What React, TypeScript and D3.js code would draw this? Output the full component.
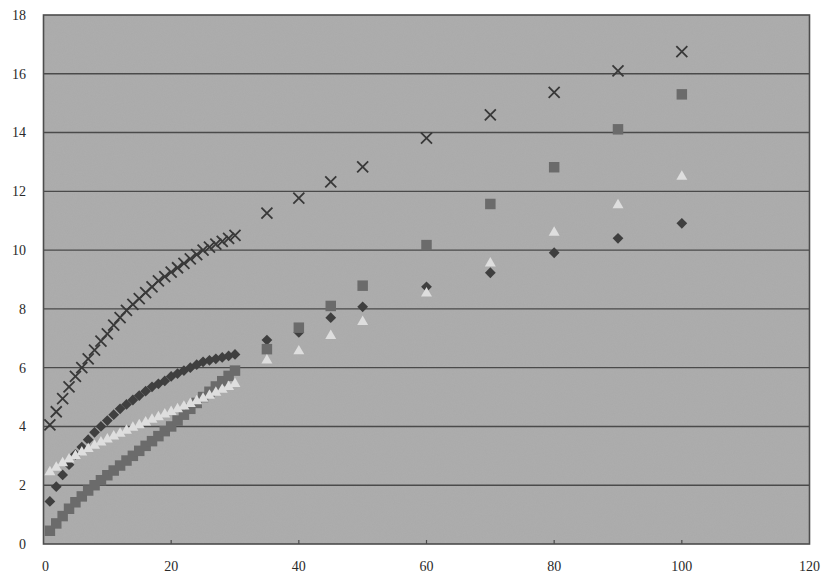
import React from "react";
import * as d3 from "d3";

const xDense = d3.range(1, 31);
const xSparse = [35, 40, 45, 50, 60, 70, 80, 90, 100];

const diamondDense = [1.45, 1.95, 2.35, 2.7, 3.05, 3.3, 3.55, 3.8, 4.0, 4.2, 4.4, 4.6, 4.75, 4.9, 5.05, 5.2, 5.35, 5.45, 5.55, 5.7, 5.8, 5.9, 6.0, 6.1, 6.2, 6.25, 6.3, 6.35, 6.4, 6.45];
const diamondSparse = [6.94, 7.2, 7.7, 8.07, 8.75, 9.23, 9.91, 10.4, 10.91];

const squareDense = [0.45, 0.7, 0.95, 1.2, 1.42, 1.62, 1.82, 2.0, 2.17, 2.34, 2.5, 2.67, 2.84, 3.0, 3.17, 3.34, 3.5, 3.67, 3.84, 4.0, 4.2, 4.4, 4.6, 4.8, 5.0, 5.18, 5.36, 5.54, 5.72, 5.9];
const squareSparse = [6.63, 7.36, 8.1, 8.79, 10.17, 11.57, 12.82, 14.11, 15.3];

const triangleDense = [2.45, 2.6, 2.75, 2.88, 3.0, 3.12, 3.24, 3.35, 3.46, 3.56, 3.66, 3.76, 3.86, 3.96, 4.05, 4.14, 4.23, 4.32, 4.41, 4.5, 4.59, 4.68, 4.77, 4.86, 4.95, 5.05, 5.15, 5.25, 5.35, 5.45];
const triangleSparse = [6.25, 6.56, 7.08, 7.56, 8.53, 9.55, 10.6, 11.53, 12.5];

const crossDense = [4.05, 4.5, 4.95, 5.35, 5.7, 6.0, 6.3, 6.6, 6.9, 7.15, 7.45, 7.7, 7.95, 8.15, 8.35, 8.55, 8.75, 8.95, 9.1, 9.25, 9.4, 9.55, 9.7, 9.85, 10.0, 10.1, 10.2, 10.3, 10.4, 10.5];
const crossSparse = [11.26, 11.77, 12.32, 12.83, 13.81, 14.6, 15.37, 16.1, 16.75];

const xTicks = [0, 20, 40, 60, 80, 100, 120];
const yTicks = [0, 2, 4, 6, 8, 10, 12, 14, 16, 18];

const W = 827, H = 574;
const left = 43.5, right = 809.5, top = 15, bottom = 544;

const x = d3.scaleLinear().domain([0, 120]).range([left, right]);
const y = d3.scaleLinear().domain([0, 18]).range([bottom, top]);

const pts = (xs: number[], ys: number[]) => xs.map((v, i) => [v, ys[i]] as [number, number]);
const diamonds = [...pts(xDense, diamondDense), ...pts(xSparse, diamondSparse)];
const squares = [...pts(xDense, squareDense), ...pts(xSparse, squareSparse)];
const triangles = [...pts(xDense, triangleDense), ...pts(xSparse, triangleSparse)];
const crosses = [...pts(xDense, crossDense), ...pts(xSparse, crossSparse)];

const sq = d3.symbol().type(d3.symbolSquare).size(110)()!;
const dia = d3.symbol().type(d3.symbolSquare).size(58)()!;
const tri = d3.symbol().type(d3.symbolTriangle).size(52)()!;
const font = "'Liberation Serif', 'DejaVu Serif', serif";

export default function App() {
  const c = 5.5;
  return (
    <svg width={W} height={H} style={{ position: "absolute", left: 0, top: 0, background: "#fff" }}>
      <defs>
        <filter id="noise" x="0" y="0" width="100%" height="100%">
          <feTurbulence type="fractalNoise" baseFrequency="0.9" numOctaves="2" seed="3" result="n" />
          <feColorMatrix type="matrix" values="0 0 0 0 0.5  0 0 0 0 0.5  0 0 0 0 0.5  0 0 0 0.35 0" in="n" result="g" />
          <feComposite in="g" in2="SourceGraphic" operator="in" />
        </filter>
      </defs>
      <rect x={left} y={top} width={right - left} height={bottom - top} fill="#aaaaaa" />
      <rect x={left} y={top} width={right - left} height={bottom - top} fill="#aaaaaa" filter="url(#noise)" opacity={0.6} />
      {yTicks.slice(1, -1).map((t) => (
        <line key={t} x1={left} x2={right} y1={y(t)} y2={y(t)} stroke="#4a4a4a" strokeWidth={1.4} />
      ))}
      {xTicks.slice(1, -1).map((t) => (
        <line key={t} x1={x(t)} x2={x(t)} y1={bottom} y2={bottom - 4} stroke="#4a4a4a" strokeWidth={1.2} />
      ))}
      <rect x={left} y={top} width={right - left} height={bottom - top} fill="none" stroke="#4d4d4d" strokeWidth={1.6} />
      {diamonds.map(([a, b], i) => (
        <path key={"d" + i} d={dia} transform={`translate(${x(a)},${y(b)}) rotate(45)`} fill="#3f3f3f" />
      ))}
      {squares.map(([a, b], i) => (
        <path key={"s" + i} d={sq} transform={`translate(${x(a)},${y(b)})`} fill="#6b6b6b" />
      ))}
      {triangles.map(([a, b], i) => (
        <path key={"t" + i} d={tri} transform={`translate(${x(a)},${y(b)})`} fill="#dedede" />
      ))}
      {crosses.map(([a, b], i) => (
        <path key={"c" + i} d={`M${-c},${-c}L${c},${c}M${-c},${c}L${c},${-c}`} transform={`translate(${x(a)},${y(b)})`} stroke="#383838" strokeWidth={1.8} fill="none" />
      ))}
      {yTicks.map((t) => (
        <text key={t} x={26} y={y(t)} dy="0.35em" textAnchor="end" fontFamily={font} fontSize={14} fill="#2a2a2a">{t}</text>
      ))}
      {xTicks.map((t) => (
        <text key={t} x={x(t) + (t === 0 ? 2 : 0)} y={571} textAnchor="middle" fontFamily={font} fontSize={14} fill="#2a2a2a">{t}</text>
      ))}
    </svg>
  );
}
